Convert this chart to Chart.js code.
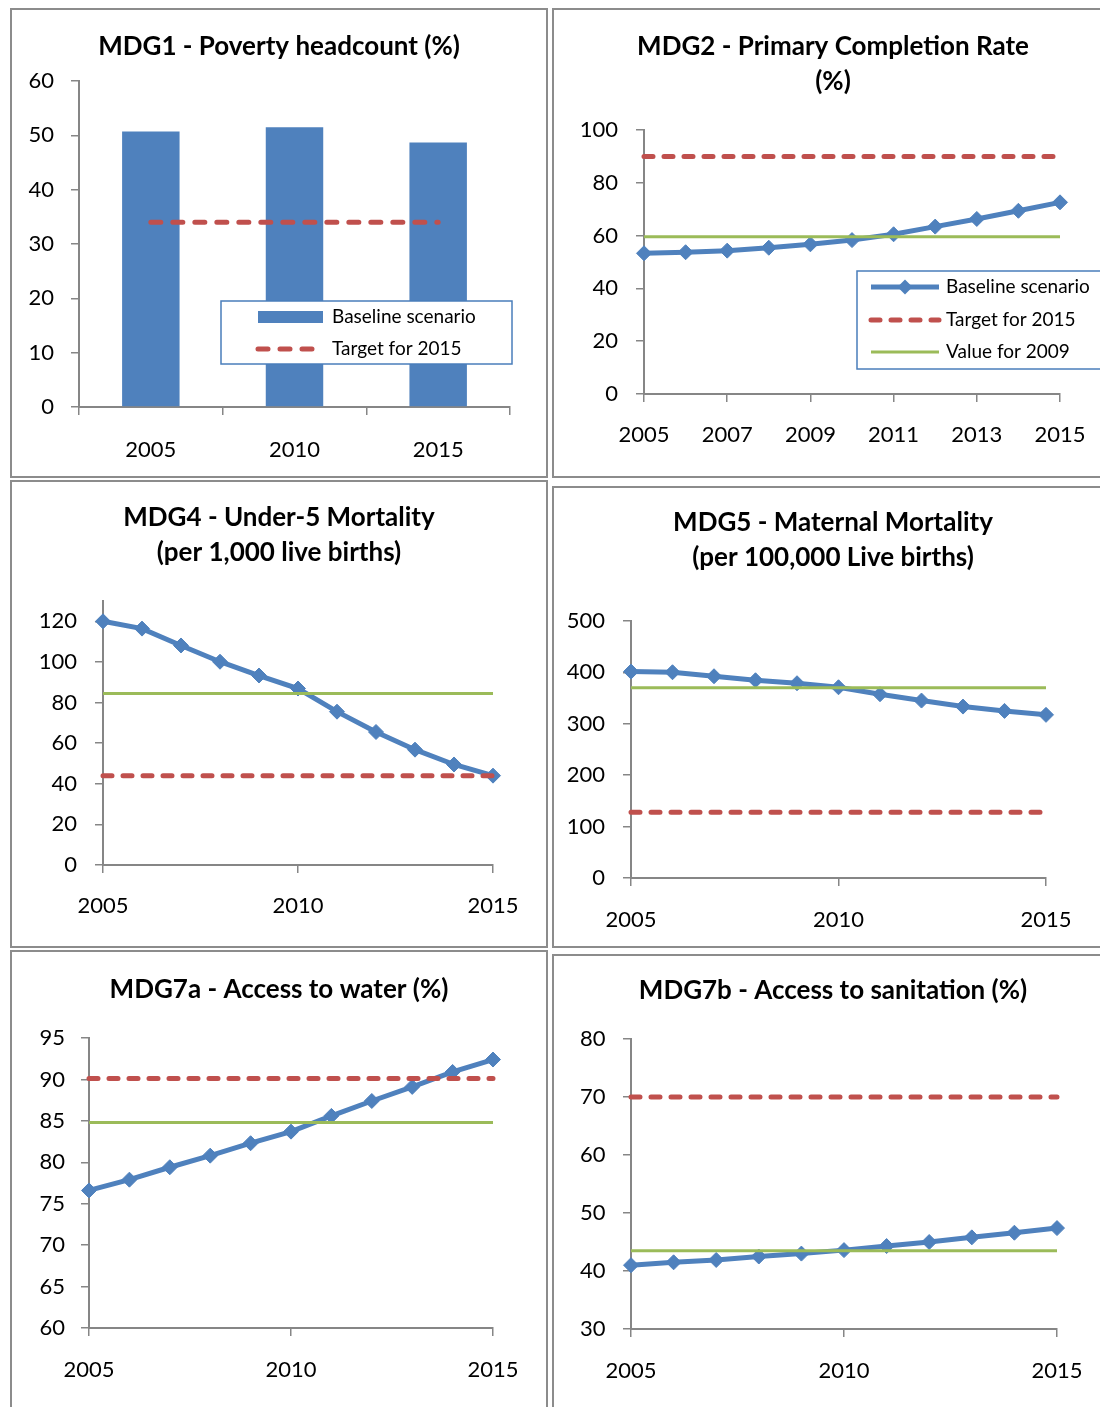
<!DOCTYPE html>
<html>
<head>
<meta charset="utf-8">
<script src="https://cdn.jsdelivr.net/npm/chart.js@4.4.1/dist/chart.umd.min.js"></script>
<style>
  html, body { margin: 0; padding: 0; background: #fff; overflow: hidden; }
  body { width: 1100px; height: 1407px; position: relative; }
  .panel { position: absolute; border: 2px solid #8c8c8c; box-sizing: border-box; }
  .panel canvas { position: absolute; top: -2px; }
</style>
</head>
<body>
<div class="panel" style="left:10px;top:8px;width:538px;height:470px"><canvas id="mdg1"></canvas></div>
<div class="panel" style="left:552px;top:8px;width:562px;height:470px"><canvas id="mdg2"></canvas></div>
<div class="panel" style="left:10px;top:480px;width:538px;height:468px"><canvas id="mdg4"></canvas></div>
<div class="panel" style="left:552px;top:486px;width:562px;height:462px"><canvas id="mdg5"></canvas></div>
<div class="panel" style="left:10px;top:950px;width:538px;height:470px"><canvas id="mdg7a"></canvas></div>
<div class="panel" style="left:552px;top:954px;width:562px;height:470px"><canvas id="mdg7b"></canvas></div>
<script>
// --- data ---
const years = [2005, 2006, 2007, 2008, 2009, 2010, 2011, 2012, 2013, 2014, 2015];

const povertyYears = ['2005', '2010', '2015'];
const povertyBaseline = [50.7, 51.5, 48.7];
const povertyTarget = [34, 34, 34];

const primaryBaseline = [53.3, 53.7, 54.3, 55.4, 56.7, 58.3, 60.5, 63.4, 66.3, 69.4, 72.6];
const primaryTarget = [90, 90, 90, 90, 90, 90, 90, 90, 90, 90, 90];
const primary2009 = [59.6, 59.6, 59.6, 59.6, 59.6, 59.6, 59.6, 59.6, 59.6, 59.6, 59.6];

const u5Baseline = [120.0, 116.4, 108.1, 100.1, 93.3, 86.9, 75.5, 65.5, 56.8, 49.5, 44.0];
const u5Target = [44, 44, 44, 44, 44, 44, 44, 44, 44, 44, 44];
const u5Value2009 = [84.5, 84.5, 84.5, 84.5, 84.5, 84.5, 84.5, 84.5, 84.5, 84.5, 84.5];

const maternalBaseline = [401.6, 400.3, 392.5, 384.7, 378.9, 371.1, 357.5, 345.2, 333.5, 325.1, 317.4];
const maternalTarget = [128, 128, 128, 128, 128, 128, 128, 128, 128, 128, 128];
const maternal2009 = [370, 370, 370, 370, 370, 370, 370, 370, 370, 370, 370];

const waterBaseline = [76.6, 77.9, 79.4, 80.8, 82.3, 83.7, 85.6, 87.4, 89.1, 90.9, 92.4];
const waterTarget = [90.1, 90.1, 90.1, 90.1, 90.1, 90.1, 90.1, 90.1, 90.1, 90.1, 90.1];
const water2009 = [84.8, 84.8, 84.8, 84.8, 84.8, 84.8, 84.8, 84.8, 84.8, 84.8, 84.8];

const sanitBaseline = [41.0, 41.5, 41.9, 42.5, 43.0, 43.6, 44.3, 45.0, 45.8, 46.6, 47.4];
const sanitTarget = [70, 70, 70, 70, 70, 70, 70, 70, 70, 70, 70];
const sanit2009 = [43.5, 43.5, 43.5, 43.5, 43.5, 43.5, 43.5, 43.5, 43.5, 43.5, 43.5];

// --- styles ---
const BLUE = '#4f81bd';
const RED = '#c0504d';
const GREEN = '#9bbb59';
const AXIS = '#868686';
const tickFont = { family: 'Lato', size: 22 };
const LINE_H = 35;
const Y_W = 70;   // width of the y axis box
const EXTRA = 12; // canvas overhang on each side of the panel

Chart.defaults.font.family = 'Lato';
Chart.defaults.color = '#000';
Chart.defaults.animation = false;
Chart.defaults.plugins.legend.display = false;
Chart.defaults.plugins.tooltip.enabled = false;

// legend drawn as a framed box inside the plot, like the spreadsheet original
const boxLegend = {
    id: 'boxLegend',
    afterDraw(chart, args, o) {
        if (!o || !o.rows) return;
        const ctx = chart.ctx;
        const dx = EXTRA;
        ctx.save();
        ctx.fillStyle = '#fff';
        ctx.fillRect(o.x + dx, o.y, o.w, o.h);
        ctx.lineWidth = 1.5;
        ctx.strokeStyle = '#4a7ebb';
        ctx.strokeRect(o.x + dx, o.y, o.w, o.h);
        chart.data.datasets.forEach((ds, i) => {
            const y = o.rows[i];
            const x0 = o.swatch[0] + dx, x1 = o.swatch[1] + dx;
            if ((ds.type || chart.config.type) === 'bar') {
                ctx.fillStyle = ds.backgroundColor;
                ctx.fillRect(x0, y - 6, x1 - x0, 12);
            } else {
                ctx.beginPath();
                ctx.setLineDash(ds.borderDash || []);
                ctx.lineCap = ds.borderCapStyle || 'butt';
                ctx.lineWidth = ds.borderWidth;
                ctx.strokeStyle = ds.borderColor;
                ctx.moveTo(x0, y);
                ctx.lineTo(x1, y);
                ctx.stroke();
                ctx.setLineDash([]);
                if (ds.pointRadius) {
                    const r = ds.pointRadius, cx = (x0 + x1) / 2;
                    ctx.beginPath();
                    ctx.moveTo(cx - r, y); ctx.lineTo(cx, y - r);
                    ctx.lineTo(cx + r, y); ctx.lineTo(cx, y + r);
                    ctx.closePath();
                    ctx.fillStyle = ds.pointBackgroundColor;
                    ctx.fill();
                }
            }
            ctx.fillStyle = '#000';
            ctx.font = '19px Lato';
            ctx.textBaseline = 'middle';
            ctx.textAlign = 'left';
            ctx.fillText(ds.label, o.textX + dx, y);
        });
        ctx.restore();
    }
};

// turn a wanted plot rectangle (panel coords) into canvas size, padding and axis sizes.
// an empty right-hand axis keeps the full-width title centred on the panel
function frame(id, pw, ph, area, titleY, lines) {
    const cv = document.getElementById(id);
    cv.width = pw + 2 * EXTRA;
    cv.height = ph;
    cv.style.left = (-2 - EXTRA) + 'px';
    const spare = Y_W - (area.l + area.r - pw);
    const side = pw + EXTRA - area.r - spare;
    const pt = titleY - LINE_H / 2;
    return {
        canvas: cv,
        padding: { left: side, right: side, top: 0, bottom: 0 },
        spare: spare,
        xHeight: ph - area.b,
        titlePad: { top: pt, bottom: area.t - pt - lines * LINE_H }
    };
}

function titleOpts(text, f) {
    return {
        display: true,
        text: text,
        color: '#000',
        font: { family: 'Lato', size: 26, weight: 'bold', lineHeight: LINE_H + 'px' },
        padding: f.titlePad
    };
}

function spacer(f) {
    return {
        position: 'right', display: true,
        grid: { display: false }, border: { display: false }, ticks: { display: false },
        afterFit: s => { s.width = f.spare; }
    };
}

function yAxis(min, max, step, f, pad) {
    return {
        min: min, max: max,
        ticks: { stepSize: step, includeBounds: false, padding: pad, color: '#000', font: tickFont },
        grid: { drawOnChartArea: false, drawTicks: true, tickLength: 8, color: AXIS, lineWidth: 1.5 },
        border: { color: AXIS, width: 2 },
        afterFit: s => { s.width = Y_W; }
    };
}

function xYears(step, f, pad) {
    return {
        type: 'linear', min: 2005, max: 2015,
        ticks: { stepSize: step, padding: pad, color: '#000', font: tickFont, maxRotation: 0, autoSkip: false,
                 callback: v => String(v) },
        grid: { drawOnChartArea: false, drawTicks: true, tickLength: 8, color: AXIS, lineWidth: 1.5 },
        border: { color: AXIS, width: 2 },
        afterFit: s => { s.height = f.xHeight; }
    };
}

function pts(values) {
    return values.map((v, i) => ({ x: years[i], y: v }));
}

function baselineSet(values) {
    return {
        label: 'Baseline scenario', data: pts(values), order: 2, clip: false,
        borderColor: BLUE, borderWidth: 5, tension: 0,
        pointStyle: 'rectRot', pointRadius: 7.5, pointBorderWidth: 1,
        pointBackgroundColor: BLUE, pointBorderColor: BLUE
    };
}
function targetSet(values) {
    return {
        label: 'Target for 2015', data: pts(values), order: 1, clip: false,
        borderColor: RED, borderWidth: 5, borderDash: [9, 11], borderCapStyle: 'round',
        pointRadius: 0
    };
}
function valueSet(values) {
    return {
        label: 'Value for 2009', data: pts(values), order: 0, clip: false,
        borderColor: GREEN, borderWidth: 3, pointRadius: 0
    };
}

function lineChart(f, title, datasets, y, xStep, xPad, legend) {
    const opts = {
        responsive: false,
        layout: { padding: f.padding },
        scales: { x: xYears(xStep, f, xPad), y: y, pad: spacer(f) },
        plugins: { title: titleOpts(title, f) }
    };
    const plugins = [];
    if (legend) {
        opts.plugins.boxLegend = legend;
        plugins.push(boxLegend);
    }
    return new Chart(f.canvas, {
        type: 'line',
        data: { datasets: datasets },
        options: opts,
        plugins: plugins
    });
}

// MDG1 - bars
const f1 = frame('mdg1', 538, 470, { l: 69, t: 73, r: 500, b: 399 }, 39, 1);
new Chart(f1.canvas, {
    type: 'bar',
    data: {
        labels: povertyYears,
        datasets: [
            { label: 'Baseline scenario', data: povertyBaseline, backgroundColor: BLUE, order: 1,
              barPercentage: 0.4, categoryPercentage: 1 },
            { type: 'line', label: 'Target for 2015', data: povertyTarget, order: 0,
              borderColor: RED, borderWidth: 5, borderDash: [10, 12], borderCapStyle: 'round', pointRadius: 0 }
        ]
    },
    options: {
        responsive: false,
        layout: { padding: f1.padding },
        scales: {
            x: {
                ticks: { padding: 22, color: '#000', font: tickFont },
                grid: { drawOnChartArea: false, drawTicks: true, tickLength: 8, color: AXIS, lineWidth: 1.5 },
                border: { color: AXIS, width: 2 },
                afterFit: s => { s.height = f1.xHeight; }
            },
            y: yAxis(0, 60, 10, f1, 17),
            pad: spacer(f1)
        },
        plugins: {
            title: titleOpts('MDG1 - Poverty headcount (%)', f1),
            boxLegend: { x: 211, y: 293, w: 291, h: 63, rows: [309, 341], swatch: [248, 313], textX: 322 }
        }
    },
    plugins: [boxLegend]
});

// MDG2
const f2 = frame('mdg2', 562, 470, { l: 92, t: 122, r: 508, b: 386 }, 39, 2);
lineChart(f2, ['MDG2 - Primary Completion Rate', '(%)'],
    [baselineSet(primaryBaseline), targetSet(primaryTarget), valueSet(primary2009)],
    yAxis(0, 100, 20, f2, 18), 2, 20,
    { x: 305, y: 263, w: 262, h: 98, rows: [279, 312, 344], swatch: [319, 387], textX: 394 });

// MDG4
const f4 = frame('mdg4', 538, 468, { l: 93, t: 121, r: 483, b: 385 }, 38, 2);
lineChart(f4, ['MDG4 - Under-5 Mortality', '(per 1,000 live births)'],
    [baselineSet(u5Baseline), targetSet(u5Target), valueSet(u5Value2009)],
    yAxis(0, 130, 20, f4, 18), 5, 20);

// MDG5
const f5 = frame('mdg5', 562, 462, { l: 79, t: 135, r: 494, b: 392 }, 37, 2);
lineChart(f5, ['MDG5 - Maternal Mortality', '(per 100,000 Live births)'],
    [baselineSet(maternalBaseline), targetSet(maternalTarget), valueSet(maternal2009)],
    yAxis(0, 500, 100, f5, 18), 5, 21);

// MDG7a
const f7a = frame('mdg7a', 538, 470, { l: 79, t: 88, r: 483, b: 378 }, 40, 1);
lineChart(f7a, 'MDG7a - Access to water (%)',
    [baselineSet(waterBaseline), targetSet(waterTarget), valueSet(water2009)],
    yAxis(60, 95, 5, f7a, 16), 5, 21);

// MDG7b
const f7b = frame('mdg7b', 562, 470, { l: 79, t: 85, r: 505, b: 375 }, 37, 1);
lineChart(f7b, 'MDG7b - Access to sanitation (%)',
    [baselineSet(sanitBaseline), targetSet(sanitTarget), valueSet(sanit2009)],
    yAxis(30, 80, 10, f7b, 17.5), 5, 21);
</script>
</body>
</html>
